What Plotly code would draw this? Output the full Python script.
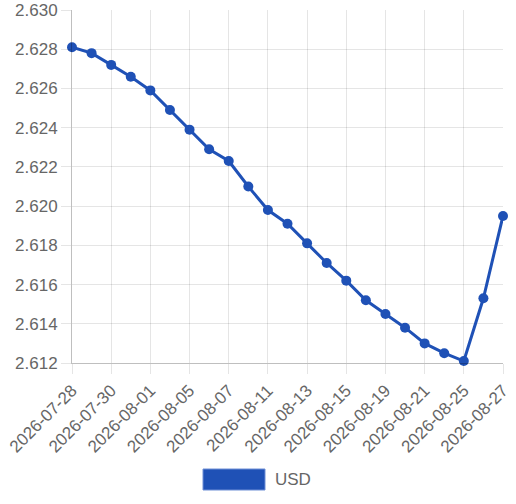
import plotly.graph_objects as go

dates = ["2026-07-28", "2026-07-29", "2026-07-30", "2026-07-31", "2026-08-01",
         "2026-08-04", "2026-08-05", "2026-08-06", "2026-08-07", "2026-08-08",
         "2026-08-11", "2026-08-12", "2026-08-13", "2026-08-14", "2026-08-15",
         "2026-08-18", "2026-08-19", "2026-08-20", "2026-08-21", "2026-08-22",
         "2026-08-25", "2026-08-26", "2026-08-27"]
usd = [2.6281, 2.6278, 2.6272, 2.6266, 2.6259, 2.6249, 2.6239, 2.6229, 2.6223,
       2.6210, 2.6198, 2.6191, 2.6181, 2.6171, 2.6162, 2.6152, 2.6145, 2.6138,
       2.6130, 2.6125, 2.6121, 2.6153, 2.6195]
tick_labels = dates[::2]
series_name = "USD"

color = "#1f51b6"
font = "Liberation Sans, Arial, sans-serif"
grid = "rgba(0,0,0,0.1)"

# plot area in page pixels: x 72..503, y 10..363
fig = go.Figure()
fig.add_trace(go.Scatter(
    x=dates, y=usd, mode="lines+markers", name=series_name,
    line=dict(color=color, width=3),
    marker=dict(color=color, size=10),
    cliponaxis=False, showlegend=False,
))

fig.update_layout(
    width=516, height=504,
    margin=dict(l=72, r=13, t=10, b=141),
    paper_bgcolor="white", plot_bgcolor="white",
    font=dict(family=font, size=17, color="#666666"),
    showlegend=False,
)
fig.update_xaxes(
    type="category", range=[0, len(dates) - 1], automargin=False,
    tickmode="array", tickvals=tick_labels, ticktext=tick_labels,
    tickangle=-45, showgrid=True, gridcolor=grid, gridwidth=1,
    ticks="outside", ticklen=10, tickcolor=grid,
    showline=True, linecolor="rgba(0,0,0,0.25)", linewidth=1,
    zeroline=False,
)
fig.update_yaxes(
    range=[2.612, 2.630], dtick=0.002, tick0=2.612, tickformat=".3f",
    automargin=False,
    showgrid=True, gridcolor=grid, gridwidth=1,
    ticks="outside", ticklen=10, tickcolor=grid,
    showline=True, linecolor="rgba(0,0,0,0.25)", linewidth=1,
    zeroline=False,
)

# legend drawn manually (Chart.js style box)
fig.add_shape(type="rect", xref="paper", yref="paper",
              x0=(203 - 72) / 431, x1=(265 - 72) / 431,
              y0=(363 - 490) / 353, y1=(363 - 469) / 353,
              fillcolor=color, line=dict(color="#6f8fd6", width=1))
fig.add_annotation(xref="paper", yref="paper",
                   x=(273 - 72) / 431, y=(363 - 479) / 353,
                   xanchor="left", yanchor="middle", showarrow=False,
                   text=series_name, font=dict(family=font, size=17, color="#666666"))

fig.write_html(
    "out.html",
    config={"displayModeBar": False},
    post_script="document.body.style.margin='0';document.body.style.overflow='hidden';",
)
